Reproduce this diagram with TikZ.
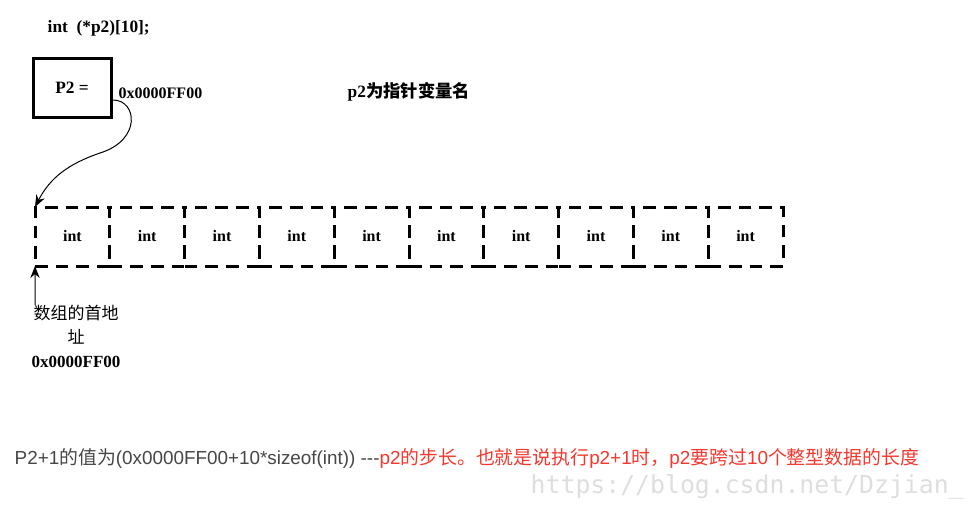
\documentclass[tikz,border=0pt]{standalone}
\usepackage{fontspec}
\setmainfont{Liberation Serif}
\newfontfamily\cjk{Noto Sans CJK SC}
\newfontfamily\arial{Liberation Sans}
\newfontfamily\wmono{DejaVu Sans Mono}
\usepackage{tikz}
\usetikzlibrary{positioning, arrows.meta}
\definecolor{notegray}{RGB}{70,70,70}
\definecolor{notered}{RGB}{245,55,45}
\definecolor{markgray}{RGB}{222,222,222}
\tikzset{
  cell/.style={draw, line width=2.25pt, dash pattern=on 9.5pt off 6pt,
    minimum width=56.1pt, minimum height=44.25pt, inner sep=0pt, outer sep=0pt,
    font=\fontsize{12}{14}\selectfont\bfseries},
  ptrbox/.style={draw, line width=2.25pt, minimum width=58.5pt, minimum height=44.25pt,
    font=\fontsize{13}{15}\selectfont\bfseries},
  ptr/.style={-{Stealth[length=9pt,width=7pt]}, line width=0.75pt}
}

\begin{document}
\begin{tikzpicture}[x=0.75pt, y=-0.75pt]
    \useasboundingbox (0,0) rectangle (979,507);
    \node[anchor=west, font=\fontsize{13}{15}\selectfont\bfseries] (decl) at (43,28) {int\ \ (*p2)[10];};
    \node[ptrbox] (p2box) at (72,87.5) {P2 =};
    \node[anchor=west, font=\fontsize{12}{14}\selectfont\bfseries] (addr) at (114,93) {0x0000FF00};
    \node[anchor=west, font=\fontsize{13}{15}\selectfont\bfseries] (name) at (343,92) {p2{\cjk 为指针变量名}};
    % the ten int cells
    \node[cell] (c1) at (72.4,236.5) {int};
    \foreach \i [remember=\i as \j (initially 1)] in {2,...,10}
      \node[cell, right=0pt of c\j] (c\i) {int};
    % pointer arrow
    \coordinate (ptrout) at (113,100);
    \draw[ptr] (ptrout) .. controls (137,100) and (142,140) .. (100,153)
      .. controls (68,164) and (50,178) .. (c1.north west);
    % base address
    \coordinate (base) at (35,305);
    \draw[ptr] (base) -- (c1.south west);
    \node[align=center, font=\fontsize{12.75}{18}\selectfont] (baselbl) at (76,336)
      {{\cjk 数组的首地}\\{\cjk 址}\\\textbf{0x0000FF00}};
    % note
    \node[anchor=west, font=\fontsize{14.15}{16}\selectfont\arial, text=notegray] (note) at (10,458)
      {P2+1{\cjk 的值为}(0x0000FF00+10*sizeof(int)) ---\textcolor{notered}{p2{\cjk 的步长。也就是说执行}p2+1{\cjk 时，}p2{\cjk 要跨过}10{\cjk 个整型数据的长度}}};
    \node[anchor=west, font=\fontsize{18.6}{20}\selectfont\wmono, text=markgray] (mark) at (526,487)
      {https://blog.csdn.net/Dzjian\_};
\end{tikzpicture}
\end{document}
